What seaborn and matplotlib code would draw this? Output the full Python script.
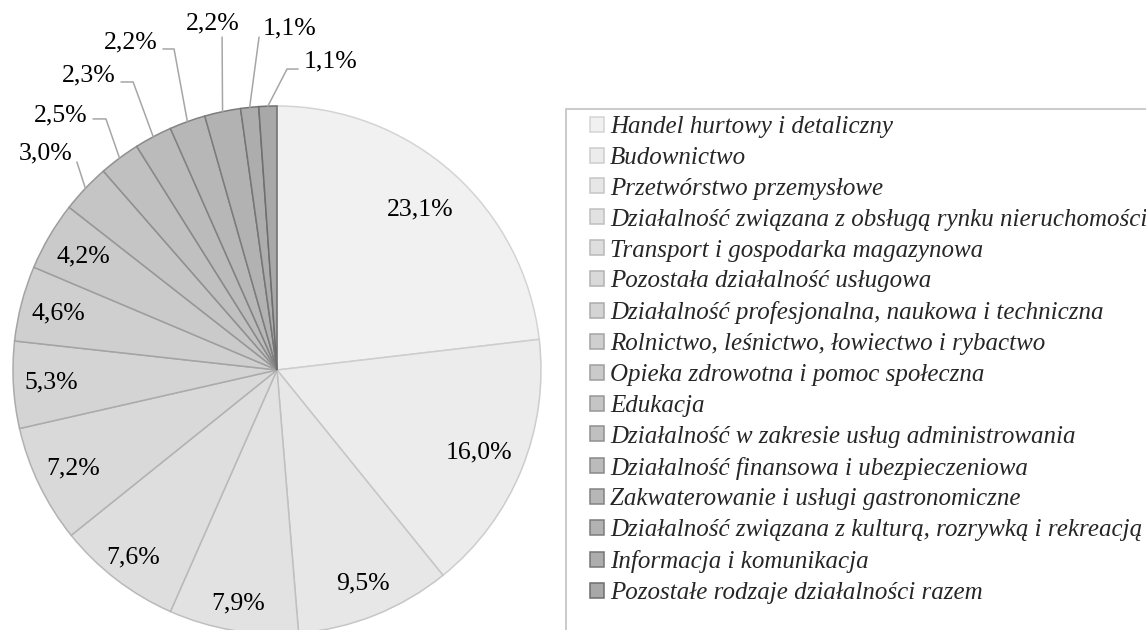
import numpy as np
import matplotlib
matplotlib.use("Agg")
import matplotlib.pyplot as plt
import seaborn as sns
from matplotlib.patches import Rectangle

# ==========================================
# DANE
# ==========================================
categories = [
    "Handel hurtowy i detaliczny",
    "Budownictwo",
    "Przetwórstwo przemysłowe",
    "Działalność związana z obsługą rynku nieruchomości",
    "Transport i gospodarka magazynowa",
    "Pozostała działalność usługowa",
    "Działalność profesjonalna, naukowa i techniczna",
    "Rolnictwo, leśnictwo, łowiectwo i rybactwo",
    "Opieka zdrowotna i pomoc społeczna",
    "Edukacja",
    "Działalność w zakresie usług administrowania",
    "Działalność finansowa i ubezpieczeniowa",
    "Zakwaterowanie i usługi gastronomiczne",
    "Działalność związana z kulturą, rozrywką i rekreacją",
    "Informacja i komunikacja",
    "Pozostałe rodzaje działalności razem",
]
shares = [23.1, 16.0, 9.5, 7.9, 7.6, 7.2, 5.3, 4.6, 4.2, 3.0, 2.5, 2.3, 2.2, 2.2, 1.1, 1.1]
labels = [f"{v:.1f}".replace(".", ",") + "%" for v in shares]

# ==========================================
# UKŁAD (pozycje etykiet w jednostkach promienia)
# ==========================================
n_inside = 9
inside_r = [0.815, 0.827, 0.872, 0.895, 0.893, 0.856, 0.858, 0.854, 0.851]
outer_text = [(-0.875, 0.822), (-0.818, 0.966), (-0.712, 1.117), (-0.553, 1.242),
              (-0.242, 1.311), (0.049, 1.295), (0.201, 1.167)]
outer_path = [[(-0.758, 0.788)],
              [(-0.697, 0.951), (-0.648, 0.951)],
              [(-0.591, 1.091), (-0.545, 1.091)],
              [(-0.432, 1.216), (-0.390, 1.216)],
              [(-0.208, 1.261)],
              [(-0.068, 1.261)],
              [(0.080, 1.140), (0.038, 1.140)]]

sns.set_theme(style="white")
plt.rcParams['font.family'] = ['Liberation Serif', 'DejaVu Serif']

fills = sns.blend_palette(["#f1f1f1", "#a8a8a8"], len(shares))
edges = sns.blend_palette(["#d4d4d4", "#6e6e6e"], len(shares))

W, H = 1146, 630
cx, cy, R = 277, 370, 264
fig = plt.figure(figsize=(W / 100, H / 100), dpi=100)
ax = fig.add_axes([(cx - R) / W, (H - cy - R) / H, 2 * R / W, 2 * R / H])

wedges, _ = ax.pie(shares, colors=fills, startangle=90, counterclock=False,
                   radius=1, wedgeprops=dict(linewidth=1.1))
for w, ec in zip(wedges, edges):
    w.set_edgecolor(ec)
ax.set_xlim(-1, 1)
ax.set_ylim(-1, 1)
ax.axis('off')

# etykiety wewnątrz
for i in range(n_inside):
    w = wedges[i]
    mid = np.deg2rad((w.theta1 + w.theta2) / 2)
    r = inside_r[i]
    ax.text(r * np.cos(mid), r * np.sin(mid), labels[i], ha='center', va='center',
            fontsize=18.5, color='black')

# etykiety na zewnątrz z liniami odniesienia
for k, i in enumerate(range(n_inside, len(shares))):
    w = wedges[i]
    mid = np.deg2rad((w.theta1 + w.theta2) / 2)
    pts = outer_path[k] + [(np.cos(mid), np.sin(mid))]
    xs, ys = zip(*pts)
    ax.plot(xs, ys, color="#a6a6a6", linewidth=1.1, clip_on=False)
    tx, ty = outer_text[k]
    ax.text(tx, ty, labels[i], ha='center', va='center', fontsize=18.5, color='black')

# legenda
fig.legend(wedges, categories, loc='upper left', bbox_to_anchor=(590 / W, 1 - 116 / H),
           frameon=False, prop={'family': 'Liberation Serif', 'style': 'italic', 'size': 18},
           handlelength=0.55, handleheight=0.55, handletextpad=0.25, labelspacing=0.355,
           borderpad=0, borderaxespad=0)
fig.add_artist(Rectangle((566 / W, -0.05), 1.0, (1 - 109 / H) + 0.05, transform=fig.transFigure,
                         fill=False, edgecolor="#c6c6c6", linewidth=1.3, clip_on=False))

fig.savefig('out.png', dpi=100)
